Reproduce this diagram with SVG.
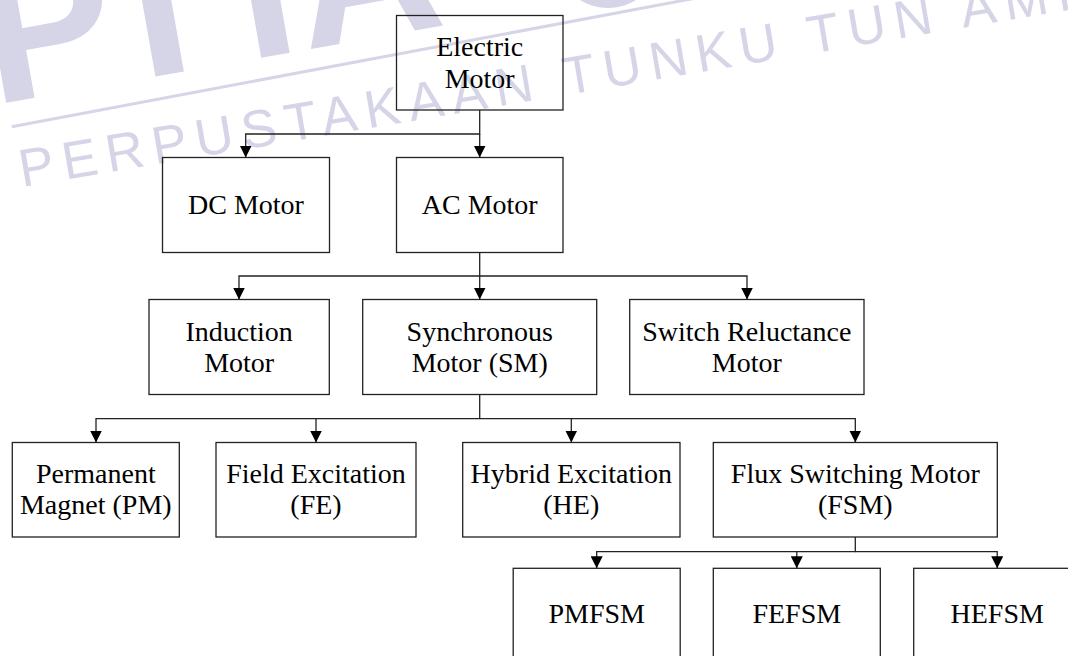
<svg xmlns="http://www.w3.org/2000/svg" width="1068" height="656" viewBox="0 0 1068 656">
<style>
.wm{fill:#d6d5e8;font-family:"Liberation Sans",Arial,sans-serif}
.box{fill:none;stroke:#222;stroke-width:1.3}
.lbl{font-family:"Liberation Serif","Times New Roman",serif;font-size:28px;fill:#000;text-anchor:middle}
.con{fill:none;stroke:#222;stroke-width:1.3}
</style>
<defs>
<marker id="arr" markerUnits="userSpaceOnUse" markerWidth="12" markerHeight="12" viewBox="0 0 12 12" refX="12" refY="6" orient="auto">
<path d="M0,0 L12,6 L0,12 z" fill="#000"/>
</marker>
</defs>
<g id="watermark">
<text class="wm" x="-7" y="105" font-size="200" font-weight="bold" letter-spacing="-15" transform="rotate(-10 -7 105)">PTTA</text>
<circle cx="608" cy="-45" r="53" fill="#d6d5e8"/>
<line x1="11.7" y1="126.7" x2="760" y2="-14" stroke="#d6d5e8" stroke-width="3"/>
<text class="wm" x="22" y="187" font-size="53" letter-spacing="8.6" transform="rotate(-9.6 22 187)">PERPUSTAKAAN TUNKU TUN AMINAH</text>
</g>
<g id="connectors">
<path class="con" d="M479.7,110 V134 H245.7 V157.5" marker-end="url(#arr)"/>
<path class="con" d="M479.7,134 V157.5" marker-end="url(#arr)"/>
<path class="con" d="M479.7,252.5 V276 H239 V299.5" marker-end="url(#arr)"/>
<path class="con" d="M479.7,276 V299.5" marker-end="url(#arr)"/>
<path class="con" d="M479.7,276 H747 V299.5" marker-end="url(#arr)"/>
<path class="con" d="M479.7,394.5 V418.7 H96 V442.5" marker-end="url(#arr)"/>
<path class="con" d="M316,418.7 V442.5" marker-end="url(#arr)"/>
<path class="con" d="M479.7,418.7 H855.3 V442.5" marker-end="url(#arr)"/>
<path class="con" d="M571.3,418.7 V442.5" marker-end="url(#arr)"/>
<path class="con" d="M855.3,537 V551.7 H596.7 V568.3" marker-end="url(#arr)"/>
<path class="con" d="M796.8,551.7 V568.3" marker-end="url(#arr)"/>
<path class="con" d="M855.3,551.7 H997.2 V568.3" marker-end="url(#arr)"/>
</g>
<g id="electric-motor">
<rect class="box" x="396.5" y="15.5" width="166.5" height="94.5"/>
<text class="lbl" x="479.7" y="56">Electric</text>
<text class="lbl" x="479.7" y="88">Motor</text>
</g>
<g id="dc-motor">
<rect class="box" x="162.5" y="157.5" width="167" height="95"/>
<text class="lbl" x="246" y="213.5">DC Motor</text>
</g>
<g id="ac-motor">
<rect class="box" x="396.5" y="157.5" width="166.5" height="95"/>
<text class="lbl" x="479.7" y="213.5">AC Motor</text>
</g>
<g id="induction-motor">
<rect class="box" x="149" y="299.5" width="180.3" height="95"/>
<text class="lbl" x="239.2" y="340.7">Induction</text>
<text class="lbl" x="239.2" y="371.7">Motor</text>
</g>
<g id="synchronous-motor">
<rect class="box" x="362.7" y="299.5" width="234" height="95"/>
<text class="lbl" x="479.7" y="340.7">Synchronous</text>
<text class="lbl" x="479.7" y="371.7">Motor (SM)</text>
</g>
<g id="switch-reluctance-motor">
<rect class="box" x="629.7" y="299.5" width="234.3" height="95"/>
<text class="lbl" x="746.8" y="340.7">Switch Reluctance</text>
<text class="lbl" x="746.8" y="371.7">Motor</text>
</g>
<g id="permanent-magnet">
<rect class="box" x="12.3" y="442.5" width="167" height="94.5"/>
<text class="lbl" x="95.8" y="482.7">Permanent</text>
<text class="lbl" x="95.8" y="514.3">Magnet (PM)</text>
</g>
<g id="field-excitation">
<rect class="box" x="216" y="442.5" width="200" height="94.5"/>
<text class="lbl" x="316" y="482.7">Field Excitation</text>
<text class="lbl" x="316" y="514.3">(FE)</text>
</g>
<g id="hybrid-excitation">
<rect class="box" x="462.7" y="442.5" width="217.3" height="94.5"/>
<text class="lbl" x="571.3" y="482.7">Hybrid Excitation</text>
<text class="lbl" x="571.3" y="514.3">(HE)</text>
</g>
<g id="flux-switching-motor">
<rect class="box" x="713.3" y="442.5" width="284" height="94.5"/>
<text class="lbl" x="855.3" y="482.7">Flux Switching Motor</text>
<text class="lbl" x="855.3" y="514.3">(FSM)</text>
</g>
<g id="pmfsm">
<rect class="box" x="513.2" y="568.3" width="167" height="95"/>
<text class="lbl" x="596.7" y="623">PMFSM</text>
</g>
<g id="fefsm">
<rect class="box" x="713.3" y="568.3" width="167" height="95"/>
<text class="lbl" x="796.8" y="623">FEFSM</text>
</g>
<g id="hefsm">
<rect class="box" x="913.7" y="568.3" width="167" height="95"/>
<text class="lbl" x="997.2" y="623">HEFSM</text>
</g>
</svg>
